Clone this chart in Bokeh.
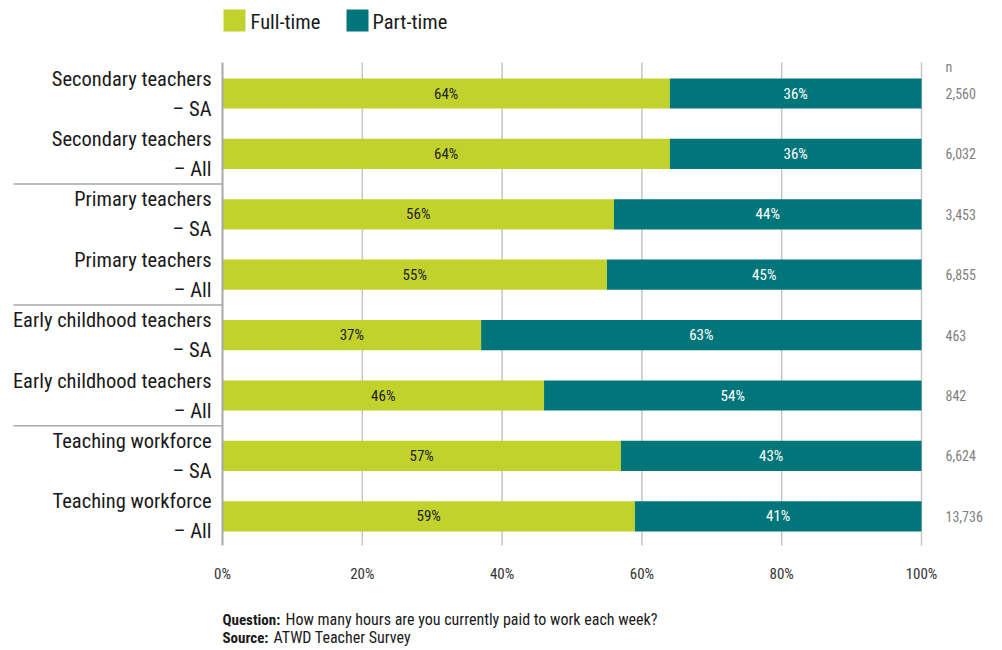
from bokeh.plotting import figure
from bokeh.models import ColumnDataSource, Range1d
from bokeh.core.properties import value
from bokeh.embed import file_html
from bokeh.resources import INLINE

# ---- data ----
line1 = ["Secondary teachers", "Secondary teachers", "Primary teachers", "Primary teachers",
         "Early childhood teachers", "Early childhood teachers", "Teaching workforce", "Teaching workforce"]
line2 = ["– SA", "– All", "– SA", "– All", "– SA", "– All", "– SA", "– All"]
full_time = [64, 64, 56, 55, 37, 46, 57, 59]
part_time = [36, 36, 44, 45, 63, 54, 43, 41]
n_values = ["2,560", "6,032", "3,453", "6,855", "463", "842", "6,624", "13,736"]
x_ticks = [0, 20, 40, 60, 80, 100]
tick_labels = ["0%", "20%", "40%", "60%", "80%", "100%"]
group_breaks = [1.5, 3.5, 5.5]
series_names = ["Full-time", "Part-time"]

FONT = "Roboto Condensed, Roboto"
GREEN = "#c2d22c"
TEAL = "#00767a"

W, H = 1002, 650
X0, X1 = 222, 921          # pixel positions of 0% and 100%
PPX = (X1 - X0) / 100.0
ROW0, PITCH = 93, 60.4     # pixel centre of first row and row pitch


def xd(px):
    return (px - X0) / PPX


def yd(py):
    return (py - ROW0) / PITCH


p = figure(width=W, height=H, output_backend="svg", toolbar_location=None,
           x_axis_location=None, y_axis_location=None, min_border=0,
           x_range=Range1d(xd(0), xd(W)), y_range=Range1d(yd(H), yd(0)))
p.outline_line_color = None
p.grid.visible = False
p.background_fill_color = "white"
p.border_fill_color = "white"

rows = list(range(len(full_time)))
src = ColumnDataSource(dict(
    y=rows, full=full_time, part=part_time,
    pt_right=[f + q for f, q in zip(full_time, part_time)],
    full_mid=[f / 2 for f in full_time],
    part_mid=[f + q / 2 for f, q in zip(full_time, part_time)],
    full_lbl=[f"{f}%" for f in full_time], part_lbl=[f"{q}%" for q in part_time],
    l1=line1, l2=line2, n=n_values,
))

# grid lines
y_top, y_bot = yd(62), yd(545)
p.segment(x0=x_ticks[1:], x1=x_ticks[1:], y0=[y_top] * 5, y1=[y_bot] * 5,
          line_color="#c4c6c8", line_width=1.5)

# bars
p.hbar(y="y", left=0, right="full", height=0.5, source=src, fill_color=GREEN, line_color=None)
p.hbar(y="y", left="full", right="pt_right", height=0.5, source=src, fill_color=TEAL, line_color=None)

# axis line at 0 and group separators
p.segment(x0=[0], x1=[0], y0=[y_top], y1=[y_bot], line_color="#a6a8ab", line_width=2)
p.segment(x0=[xd(13)] * len(group_breaks), x1=[0] * len(group_breaks),
          y0=group_breaks, y1=group_breaks, line_color="#a6a8ab", line_width=1.5)

# bar labels
p.text(x="full_mid", y="y", text="full_lbl", source=src, text_font=value(FONT),
       text_font_size="15px", text_color="#222222", text_align="center", text_baseline="middle")
p.text(x="part_mid", y="y", text="part_lbl", source=src, text_font=value(FONT),
       text_font_size="15px", text_color="white", text_align="center", text_baseline="middle")

# category labels
p.text(x=xd(211), y="y", text="l1", source=src, text_font=value(FONT), y_offset=-15,
       text_font_size="20.5px", text_color="#1a1a1a", text_align="right", text_baseline="middle")
p.text(x=xd(211), y="y", text="l2", source=src, text_font=value(FONT), y_offset=15,
       text_font_size="20.5px", text_color="#1a1a1a", text_align="right", text_baseline="middle")

# n column
p.text(x=xd(945), y="y", text="n", source=src, text_font=value(FONT),
       text_font_size="14px", text_color="#808080", text_align="left", text_baseline="middle")
p.text(x=[xd(945)], y=[yd(66)], text=["n"], text_font=value(FONT),
       text_font_size="14px", text_color="#808080", text_align="left", text_baseline="middle")

# x tick labels
p.text(x=x_ticks, y=[yd(573)] * len(x_ticks), text=tick_labels, text_font=value(FONT),
       text_font_size="15px", text_color="#333333", text_align="center", text_baseline="middle")

# legend
p.rect(x=[xd(234), xd(357)], y=[yd(20)] * 2, width=22, height=22, width_units="screen",
       height_units="screen", fill_color=[GREEN, TEAL], line_color=None)
p.text(x=[xd(250), xd(372)], y=[yd(21)] * 2, text=series_names, text_font=value(FONT),
       text_font_size="20.5px", text_color="#1a1a1a", text_align="left", text_baseline="middle")

# footnote
p.text(x=[xd(222), xd(222)], y=[yd(619), yd(637)], text=["Question:", "Source:"],
       text_font=value(FONT), text_font_size="15px", text_font_style="bold",
       text_color="#1a1a1a", text_align="left", text_baseline="middle")
p.text(x=[xd(285), xd(273)], y=[yd(619), yd(637)],
       text=["How many hours are you currently paid to work each week?", "ATWD Teacher Survey"],
       text_font=value(FONT), text_font_size="16px",
       text_color="#1a1a1a", text_align="left", text_baseline="middle")

open("out.html", "w").write(file_html(p, INLINE))
